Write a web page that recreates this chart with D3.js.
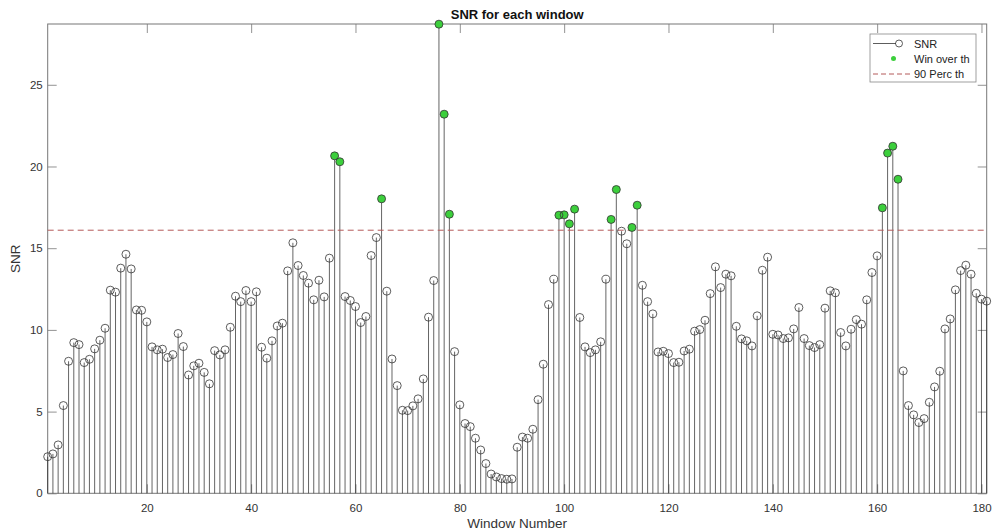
<!DOCTYPE html>
<html>
<head>
<meta charset="utf-8">
<script src="https://cdn.jsdelivr.net/npm/d3@7"></script>
<style>
  body { margin: 0; background: #fff; }
  text { font-family: "Liberation Sans", Arial, sans-serif; }
</style>
</head>
<body>
<svg width="992" height="532"></svg>
<script>
// SNR per window (window 1..181)
var snr = [
  2.24, 2.41, 2.96, 5.37, 8.08, 9.22, 9.10, 8.0, 8.2, 8.84, 9.37, 10.1, 12.43, 12.31, 13.78, 14.63,
  13.73, 11.22, 11.2, 10.49, 8.96, 8.78, 8.82, 8.31, 8.49, 9.78, 8.98, 7.24, 7.8, 7.96, 7.4, 6.7,
  8.73, 8.47, 8.78, 10.16, 12.06, 11.73, 12.41, 11.73, 12.33, 8.94, 8.27, 9.33, 10.24, 10.41,
  13.61, 15.33, 13.94, 13.33, 12.86, 11.84, 13.04, 12.02, 14.39, 20.65, 20.29, 12.04, 11.8, 11.43, 10.45,
  10.82, 14.55, 15.65, 18.02, 12.37, 8.22, 6.59, 5.08, 5.06, 5.35, 5.78, 7.0, 10.78, 13.02, 28.71,
  23.2, 17.08, 8.67, 5.41, 4.27, 4.08, 3.37, 2.65, 1.82, 1.18, 1.0, 0.9, 0.86, 0.88, 2.82, 3.44,
  3.37, 3.92, 5.73, 7.9, 11.55, 13.1, 17.02, 17.04, 16.49, 17.39, 10.76, 8.96, 8.61, 8.78, 9.27,
  13.1, 16.76, 18.59, 16.04, 15.27, 16.27, 17.63, 12.73, 11.73, 10.98, 8.65, 8.69, 8.55, 8.0, 8.02, 8.71,
  8.82, 9.92, 10.02, 10.59, 12.22, 13.86, 12.59, 13.41, 13.31, 10.22, 9.45, 9.33, 9.02, 10.86, 13.65,
  14.45, 9.73, 9.69, 9.47, 9.51, 10.06, 11.37, 9.47, 9.04, 8.92, 9.1, 11.33, 12.39, 12.27, 9.84, 9.02,
  10.04, 10.63, 10.35, 11.84, 13.51, 14.53, 17.47, 20.82, 21.24, 19.22, 7.49, 5.37, 4.8, 4.33, 4.57,
  5.57, 6.51, 7.47, 10.06, 10.67, 12.45, 13.63, 13.96, 13.41, 12.24, 11.88, 11.76
];
var threshold = 16.1;   // 90 percentile line
var xTicks = [20, 40, 60, 80, 100, 120, 140, 160, 180];
var yTicks = [0, 5, 10, 15, 20, 25];
var legendLabels = ["SNR", "Win over th", "90 Perc th"];

var svg = d3.select("svg"),
    margin = {top: 24, right: 5.3, bottom: 38.7, left: 47.7},
    width = +svg.attr("width") - margin.left - margin.right,
    height = +svg.attr("height") - margin.top - margin.bottom;

var data = snr.map(function(v, i) { return {n: i + 1, v: v}; });

var x = d3.scaleLinear().domain([1, 181]).range([0, width]);
var y = d3.scaleLinear().domain([0, 28.72]).range([height, 0]);

var g = svg.append("g")
    .attr("transform", "translate(" + margin.left + "," + margin.top + ")");

// axes, ticks pointing inwards like matlab
function styleAxis(sel) {
  sel.select(".domain").remove();
  sel.selectAll("line").attr("stroke", "#777").attr("stroke-width", 0.8);
  sel.selectAll("text").attr("fill", "#333").style("font-size", "11.5px");
}
g.append("g")
    .attr("transform", "translate(0," + height + ")")
    .call(d3.axisBottom(x).tickValues(xTicks).tickSizeInner(-9).tickSizeOuter(0).tickPadding(11))
    .call(styleAxis);
g.append("g")
    .call(d3.axisTop(x).tickValues(xTicks).tickSizeInner(-9).tickSizeOuter(0).tickFormat(""))
    .call(styleAxis);
g.append("g")
    .call(d3.axisLeft(y).tickValues(yTicks).tickSizeInner(-9).tickSizeOuter(0).tickPadding(5))
    .call(styleAxis);
g.append("g")
    .attr("transform", "translate(" + width + ",0)")
    .call(d3.axisRight(y).tickValues(yTicks).tickSizeInner(-9).tickSizeOuter(0).tickFormat(""))
    .call(styleAxis);

g.append("rect")
    .attr("width", width)
    .attr("height", height)
    .attr("fill", "none")
    .attr("stroke", "#777")
    .attr("stroke-width", 1);

// stems
g.append("g").selectAll("line")
    .data(data)
    .enter().append("line")
    .attr("x1", function(d) { return x(d.n); })
    .attr("x2", function(d) { return x(d.n); })
    .attr("y1", y(0))
    .attr("y2", function(d) { return y(d.v); })
    .attr("stroke", "#222")
    .attr("stroke-width", 0.7);

// threshold
g.append("line")
    .attr("x1", 0).attr("x2", width)
    .attr("y1", y(threshold)).attr("y2", y(threshold))
    .attr("stroke", "#b45a5a")
    .attr("stroke-width", 1)
    .attr("stroke-dasharray", "6,4");

// windows over threshold
g.append("g").selectAll("circle")
    .data(data.filter(function(d) { return d.v > threshold; }))
    .enter().append("circle")
    .attr("cx", function(d) { return x(d.n); })
    .attr("cy", function(d) { return y(d.v); })
    .attr("r", 4)
    .attr("fill", "#3ccf3c");

g.append("g").selectAll("circle")
    .data(data)
    .enter().append("circle")
    .attr("cx", function(d) { return x(d.n); })
    .attr("cy", function(d) { return y(d.v); })
    .attr("r", 4)
    .attr("fill", "none")
    .attr("stroke", "#333")
    .attr("stroke-width", 0.8);

// labels
svg.append("text")
    .attr("x", margin.left + width / 2)
    .attr("y", 19)
    .attr("text-anchor", "middle")
    .style("font-size", "13px")
    .style("font-weight", "bold")
    .attr("fill", "#111")
    .text("SNR for each window");

svg.append("text")
    .attr("x", margin.left + width / 2)
    .attr("y", 528)
    .attr("text-anchor", "middle")
    .style("font-size", "13.5px")
    .attr("fill", "#333")
    .text("Window Number");

svg.append("text")
    .attr("transform", "translate(20," + (margin.top + height / 2) + ") rotate(-90)")
    .attr("text-anchor", "middle")
    .style("font-size", "13.5px")
    .attr("fill", "#333")
    .text("SNR");

// legend
var lg = svg.append("g").attr("transform", "translate(870,34)");
lg.append("rect")
    .attr("width", 106).attr("height", 48)
    .attr("fill", "#fff")
    .attr("stroke", "#888")
    .attr("stroke-width", 0.8);
lg.append("line").attr("x1", 3).attr("x2", 26).attr("y1", 9.5).attr("y2", 9.5)
    .attr("stroke", "#333").attr("stroke-width", 0.8);
lg.append("circle").attr("cx", 29).attr("cy", 9.5).attr("r", 3.5)
    .attr("fill", "none").attr("stroke", "#333").attr("stroke-width", 0.8);
lg.append("circle").attr("cx", 23.5).attr("cy", 24.5).attr("r", 2.5)
    .attr("fill", "#3ccf3c");
lg.append("line").attr("x1", 3).attr("x2", 40).attr("y1", 40).attr("y2", 40)
    .attr("stroke", "#b45a5a").attr("stroke-width", 1).attr("stroke-dasharray", "5,3");
lg.selectAll("text.lab")
    .data(legendLabels)
    .enter().append("text")
    .attr("class", "lab")
    .attr("x", 44)
    .attr("y", function(d, i) { return 13.5 + i * 15; })
    .style("font-size", "11px")
    .attr("fill", "#222")
    .text(function(d) { return d; });
</script>
</body>
</html>
